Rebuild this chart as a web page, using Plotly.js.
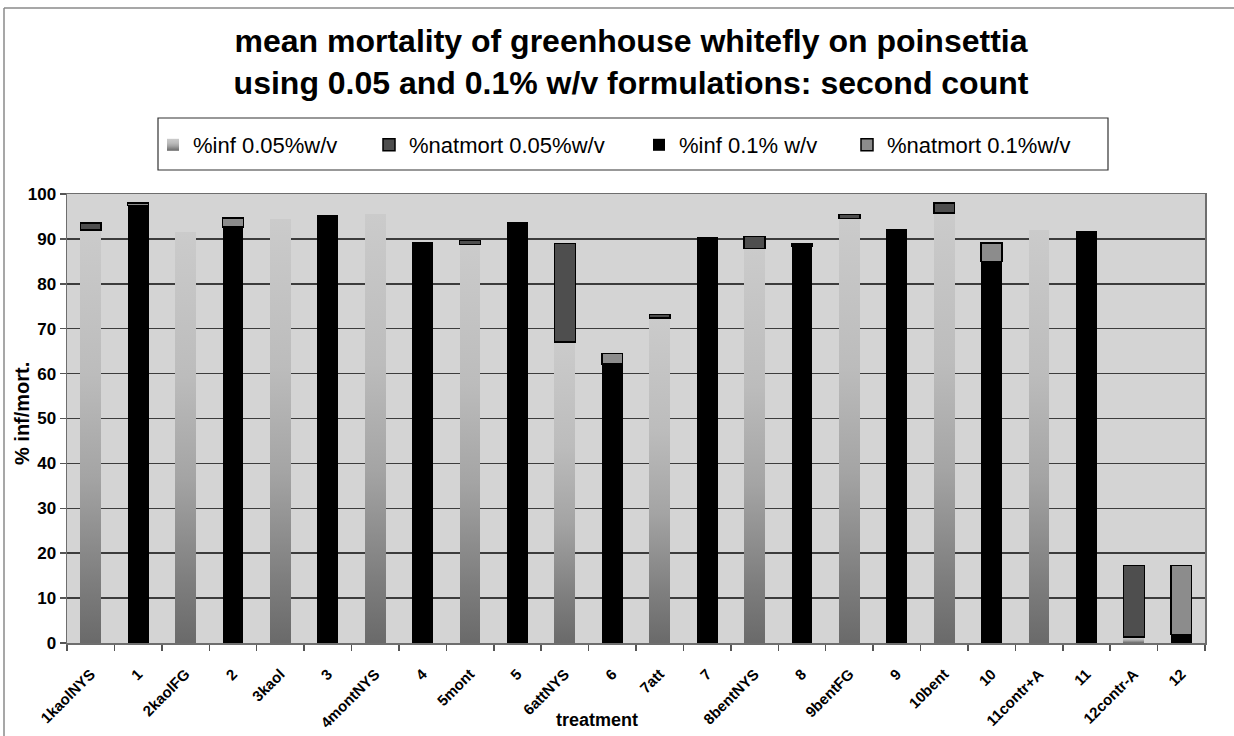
<!DOCTYPE html>
<html>
<head>
<meta charset="utf-8">
<script src="https://cdn.plot.ly/plotly-3.0.1.min.js"></script>
<style>
  html, body { margin: 0; padding: 0; background: #ffffff; }
  #chart { width: 1234px; height: 736px; }
</style>
</head>
<body>
<div id="chart"></div>
<script>
// Treatments: formulation names (0.05% w/v) alternate with their numbered 0.1% w/v counterparts
const treatments = ['1kaolNYS', '1', '2kaolFG', '2', '3kaol', '3', '4montNYS', '4', '5mont', '5',
  '6attNYS', '6', '7att', '7', '8bentNYS', '8', '9bentFG', '9', '10bent', '10',
  '11contr+A', '11', '12contr-A', '12'];

// % infected and % natural mortality, 0.05% w/v formulations
const inf005 = [92.0, null, 91.5, null, 94.5, null, 95.5, null, 88.8, null,
  67.0, null, 72.4, null, 87.9, null, 94.5, null, 95.8, null, 92.0, null, 1.3, null];
const natmort005 = [1.5, null, null, null, null, null, null, null, 0.9, null,
  22.0, null, 0.8, null, 2.6, null, 0.9, null, 2.2, null, null, null, 16.0, null];

// % infected and % natural mortality, 0.1% w/v formulations
const inf01 = [null, 97.4, null, 92.7, null, 95.3, null, 89.3, null, 93.7,
  null, 62.1, null, 90.4, null, 88.4, null, 92.1, null, 85.0, null, 91.7, null, 1.9];
const natmort01 = [null, 0.6, null, 2.0, null, null, null, null, null, null,
  null, 2.4, null, null, null, 0.5, null, null, null, 4.1, null, null, null, 15.4];

const seriesNames = ['%inf 0.05%w/v', '%natmort 0.05%w/v', '%inf 0.1% w/v', '%natmort 0.1%w/v'];

const FONT = 'Liberation Sans, Arial, sans-serif';

// plot area geometry in pixels
const W = 1234, H = 736;
const M = { l: 67, r: 29, t: 194, b: 93 };
const plotW = W - M.l - M.r, plotH = H - M.t - M.b;
const px2paperX = x => (x - M.l) / plotW;
const px2paperY = y => (H - M.b - y) / plotH;

const data = [
  {
    type: 'bar', name: seriesNames[0], x: treatments, y: inf005, legendwidth: 171,
    marker: { color: '#a8a8a8', line: { width: 0 } }
  },
  {
    type: 'bar', name: seriesNames[1], x: treatments, y: natmort005, legendwidth: 225,
    marker: { color: '#4e4e4e', line: { color: '#000000', width: 1.5 } }
  },
  {
    type: 'bar', name: seriesNames[2], x: treatments, y: inf01, legendwidth: 163,
    marker: { color: '#000000', line: { color: '#000000', width: 0 } }
  },
  {
    type: 'bar', name: seriesNames[3], x: treatments, y: natmort01, legendwidth: 200,
    marker: { color: '#8c8c8c', line: { color: '#000000', width: 1.5 } }
  }
];

const boldFont = (size) => ({ family: FONT, size: size, weight: 'bold', color: '#000000' });

const layout = {
  width: W, height: H,
  margin: M,
  paper_bgcolor: '#ffffff',
  plot_bgcolor: '#d4d4d4',
  barmode: 'stack',
  bargap: 0.56,
  showlegend: true,
  font: { family: FONT, color: '#000000' },
  title: {
    text: 'mean mortality of greenhouse whitefly on poinsettia<br>using 0.05 and 0.1% w/v formulations: second count',
    font: boldFont(32),
    xref: 'container', yref: 'container',
    x: 631 / W, xanchor: 'center',
    y: 1 - 52 / H, yanchor: 'middle'
  },
  legend: {
    orientation: 'h',
    x: px2paperX(153), xanchor: 'left',
    y: px2paperY(145), yanchor: 'middle',
    bgcolor: 'rgba(0,0,0,0)',
    borderwidth: 0,
    font: { family: FONT, size: 22, color: '#000000' },
    traceorder: 'normal'
  },
  xaxis: {
    type: 'category',
    tickangle: -45,
    tickfont: boldFont(15),
    ticklabelstandoff: 15,
    ticks: 'outside', ticklen: 6, tickwidth: 1.5, tickcolor: '#555555',
    tickson: 'boundaries',
    showgrid: false,
    showline: true, linecolor: '#6e6e6e', linewidth: 1.5, mirror: true,
    fixedrange: true
  },
  yaxis: {
    range: [0, 100],
    dtick: 10,
    tickfont: boldFont(17),
    ticks: 'outside', ticklen: 6, tickwidth: 1.5, tickcolor: '#555555',
    showgrid: true, gridcolor: '#3c3c3c', gridwidth: 1.5,
    zeroline: false,
    showline: true, linecolor: '#6e6e6e', linewidth: 1.5, mirror: true,
    fixedrange: true
  },
  annotations: [
    {
      text: 'treatment', showarrow: false,
      xref: 'paper', yref: 'paper',
      x: px2paperX(597), y: px2paperY(720),
      xanchor: 'center', yanchor: 'middle',
      font: boldFont(18)
    },
    {
      text: '% inf/mort.', showarrow: false, textangle: -90,
      xref: 'paper', yref: 'paper',
      x: px2paperX(22), y: px2paperY(414),
      xanchor: 'center', yanchor: 'middle',
      font: boldFont(20)
    }
  ],
  shapes: [
    // frame around the whole chart sheet
    {
      type: 'line', xref: 'paper', yref: 'paper', layer: 'below',
      x0: px2paperX(4), x1: px2paperX(1234), y0: px2paperY(8), y1: px2paperY(8),
      line: { color: '#8a8a8a', width: 1.5 }
    },
    {
      type: 'line', xref: 'paper', yref: 'paper', layer: 'below',
      x0: px2paperX(4), x1: px2paperX(4), y0: px2paperY(8), y1: px2paperY(736),
      line: { color: '#8a8a8a', width: 1.5 }
    },
    // legend box
    {
      type: 'rect', xref: 'paper', yref: 'paper', layer: 'below',
      x0: px2paperX(158), x1: px2paperX(1108), y0: px2paperY(170), y1: px2paperY(118),
      fillcolor: '#ffffff',
      line: { color: '#333333', width: 1.2 }
    }
  ]
};

const gd = document.getElementById('chart');
Plotly.newPlot(gd, data, layout, { staticPlot: true, displayModeBar: false }).then(function () {
  // vertical light-to-dark shading for the 0.05% w/v infected bars
  const ns = 'http://www.w3.org/2000/svg';
  const svg = gd.querySelector('.main-svg');
  let defs = svg.querySelector('defs');
  if (!defs) { defs = document.createElementNS(ns, 'defs'); svg.insertBefore(defs, svg.firstChild); }
  const grad = document.createElementNS(ns, 'linearGradient');
  grad.setAttribute('id', 'infShade');
  grad.setAttribute('x1', '0'); grad.setAttribute('y1', '0');
  grad.setAttribute('x2', '0'); grad.setAttribute('y2', '1');
  [[0, '#cbcbcb'], [0.35, '#bcbcbc'], [0.6, '#a4a4a4'], [0.85, '#7e7e7e'], [1, '#6a6a6a']].forEach(function (s) {
    const stop = document.createElementNS(ns, 'stop');
    stop.setAttribute('offset', s[0]);
    stop.setAttribute('stop-color', s[1]);
    grad.appendChild(stop);
  });
  defs.appendChild(grad);

  const barTraces = gd.querySelectorAll('.barlayer .trace.bars');
  if (barTraces.length) {
    barTraces[0].querySelectorAll('path').forEach(function (p) { p.style.fill = 'url(#infShade)'; });
  }
  const legendTraces = gd.querySelectorAll('.legend .traces');
  if (legendTraces.length) {
    legendTraces[0].querySelectorAll('.legendpoints path').forEach(function (p) { p.style.fill = 'url(#infShade)'; });
  }
});
</script>
</body>
</html>
